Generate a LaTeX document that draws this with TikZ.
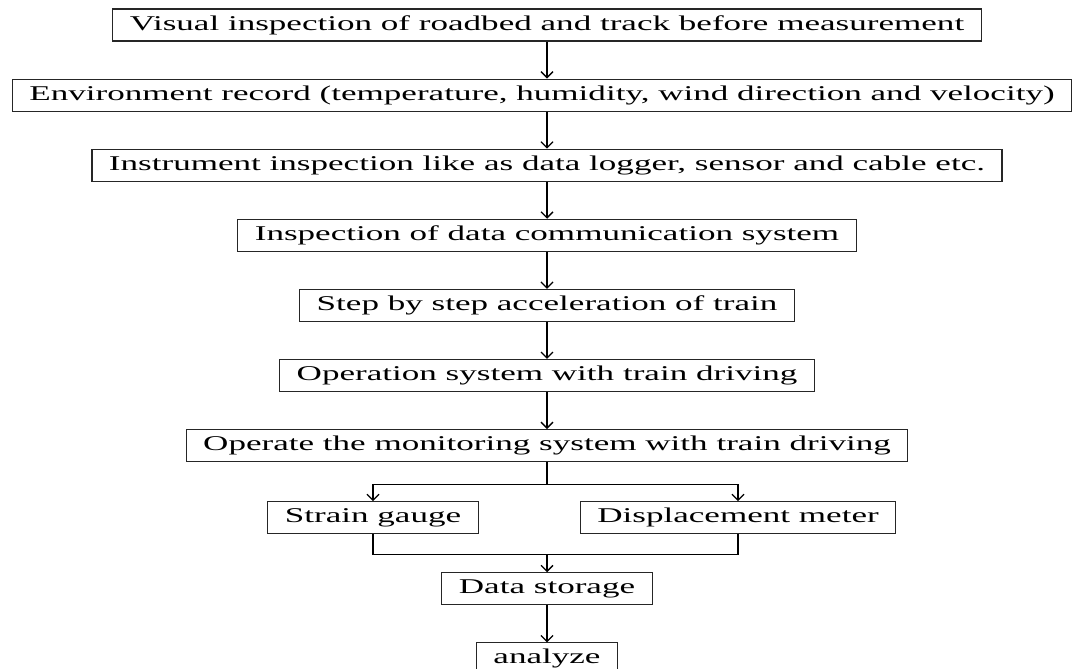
\documentclass[tikz,border=0pt]{standalone}
\usepackage{fontspec}
\setmainfont[FakeStretch=1.67]{Liberation Serif}
\usepackage{tikz}
\usetikzlibrary{arrows,arrows.meta,positioning,shapes}

\begin{document}
\begin{tikzpicture}[node distance=37pt, >={Straight Barb[length=6pt,width=12pt]}]
	\tikzstyle{rect}=[draw=black!85, line width=1.1pt, rectangle, minimum height=32pt, inner xsep=17pt, inner ysep=0pt, font=\fontsize{21}{25}\selectfont]
	\tikzstyle{link}=[line width=1.3pt]

	\useasboundingbox (0,0) rectangle (1074pt,-669pt);

	\node[rect] (visual) at (547pt,-25pt) {Visual inspection of roadbed and track before measurement};
	\node[rect] (env) [below=of visual, xshift=-5pt] {Environment record (temperature, humidity, wind direction and velocity)};
	\node[rect] (instr) [below=of env, xshift=5pt] {Instrument inspection like as data logger, sensor and cable etc.};
	\node[rect] (comm) [below=of instr] {Inspection of data communication system};
	\node[rect] (accel) [below=of comm] {Step by step acceleration of train};
	\node[rect] (opsys) [below=of accel] {Operation system with train driving};
	\node[rect] (monit) [below=of opsys] {Operate the monitoring system with train driving};

	\node[rect] (strain) [below=39pt of monit, xshift=-174pt] {Strain gauge};
	\node[rect] (displ) [below=39pt of monit, xshift=191pt] {Displacement meter};

	\path (monit.south) ++(0,-22pt) coordinate (split);
	\path (strain.south -| monit.south) ++(0,-20pt) coordinate (merge);

	\node[rect] (store) [below=18pt of merge] {Data storage};
	\node[rect] (analyze) [below=of store] {analyze};

	\draw[link,->] (visual) -- (visual.south |- env.north);
	\draw[link,->] (visual.south |- env.south) -- (instr);
	\draw[link,->] (instr) -- (comm);
	\draw[link,->] (comm) -- (accel);
	\draw[link,->] (accel) -- (opsys);
	\draw[link,->] (opsys) -- (monit);

	\draw[link] (monit) -- (split);
	\draw[link,->] (split) -| (strain);
	\draw[link,->] (split) -| (displ);

	\draw[link] (strain) |- (merge);
	\draw[link] (displ) |- (merge);
	\draw[link,->] (merge) -- (store);
	\draw[link,->] (store) -- (analyze);
\end{tikzpicture}
\end{document}
